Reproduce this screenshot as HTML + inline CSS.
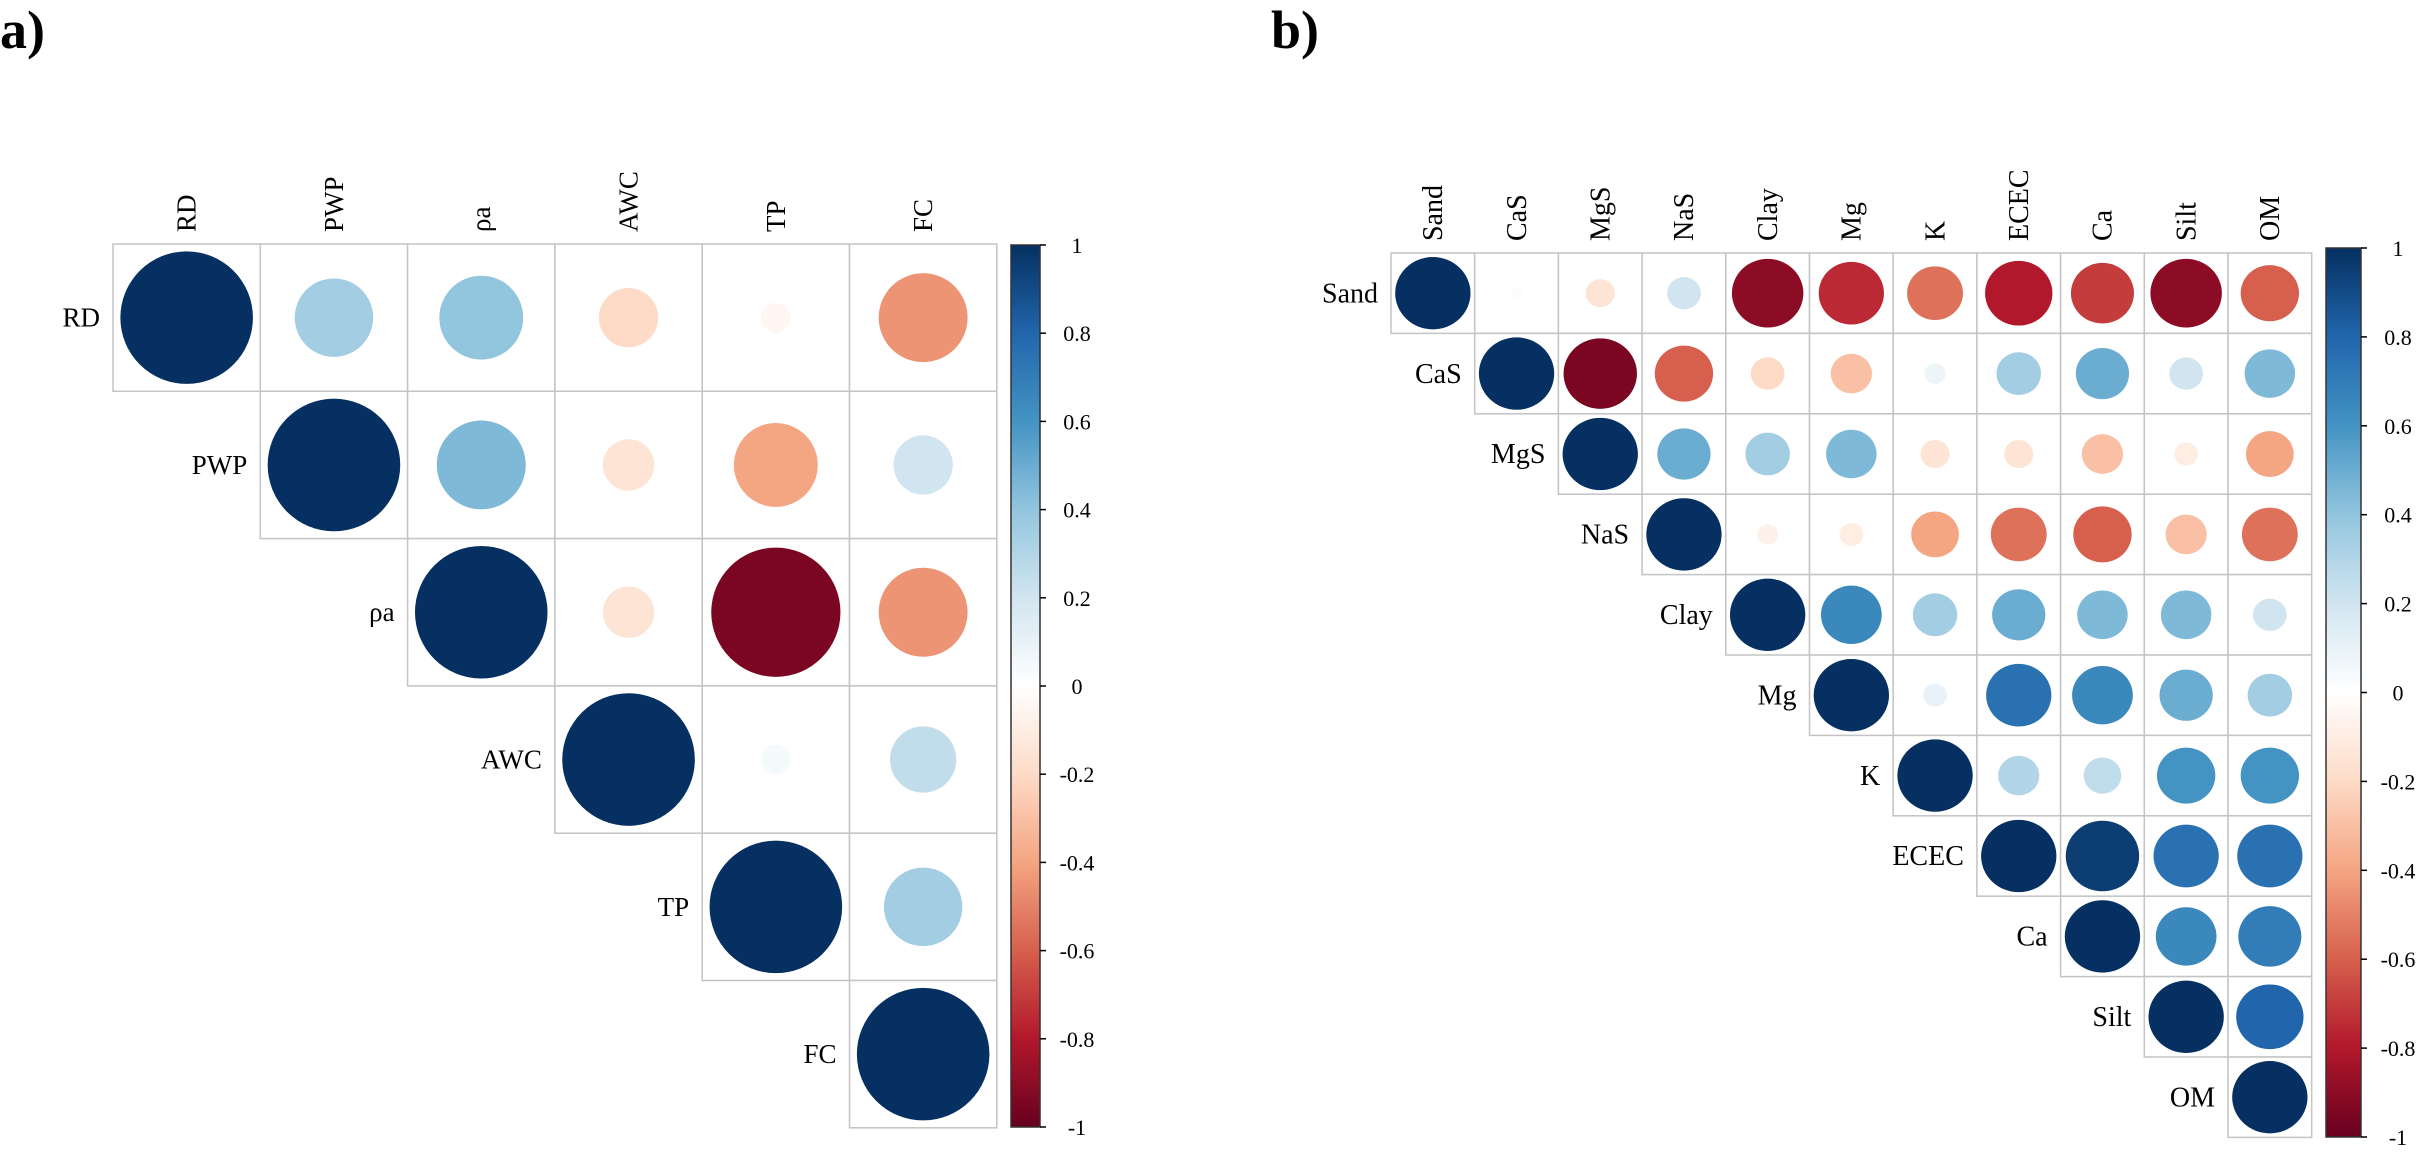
<!DOCTYPE html>
<html><head><meta charset="utf-8">
<style>
html,body{margin:0;padding:0;background:#fff;}
svg{display:block;}
svg text{font-family:"Liberation Serif","Times New Roman",serif !important;fill:#000;}
</style></head>
<body>
<svg id="fig" width="2431" height="1157" viewBox="0 0 2431 1157" xmlns="http://www.w3.org/2000/svg" font-family="Liberation Serif, serif">
<text x="0" y="48" font-size="54" font-weight="bold" font-family="Liberation Serif, serif">a)</text>
<text x="1271" y="48" font-size="54" font-weight="bold" font-family="Liberation Serif, serif">b)</text>
</svg>
<script>
// Panel a data (upper triangle, excluding diagonal)
const varsA = ["RD","PWP","ρa","AWC","TP","FC"];
const rowsA = [
  [0.35, 0.40, -0.20, -0.05, -0.45],
  [0.45, -0.15, -0.40, 0.20],
  [-0.15, -0.95, -0.45],
  [0.05, 0.25],
  [0.35],
  []
];
// Panel b data
const varsB = ["Sand","CaS","MgS","NaS","Clay","Mg","K","ECEC","Ca","Silt","OM"];
const rowsB = [
  [0.02, -0.15, 0.20, -0.90, -0.75, -0.55, -0.80, -0.70, -0.90, -0.60],
  [-0.95, -0.60, -0.20, -0.30, 0.08, 0.35, 0.50, 0.20, 0.45],
  [0.50, 0.35, 0.45, -0.15, -0.15, -0.30, -0.10, -0.40],
  [-0.08, -0.10, -0.40, -0.55, -0.60, -0.30, -0.55],
  [0.65, 0.35, 0.50, 0.45, 0.45, 0.20],
  [0.10, 0.75, 0.65, 0.50, 0.35],
  [0.30, 0.25, 0.60, 0.60],
  [0.95, 0.75, 0.75],
  [0.65, 0.70],
  [0.80],
  []
];
const tickValues = [1,0.8,0.6,0.4,0.2,0,-0.2,-0.4,-0.6,-0.8,-1];
const tickLabels = ["1","0.8","0.6","0.4","0.2","0","-0.2","-0.4","-0.6","-0.8","-1"];

const NS = "http://www.w3.org/2000/svg";
const svg = document.getElementById("fig");
const stops = ["#67001F","#B2182B","#D6604D","#F4A582","#FDDBC7","#FFFFFF","#D1E5F0","#92C5DE","#4393C3","#2166AC","#053061"];
function hex(c){return [parseInt(c.substr(1,2),16),parseInt(c.substr(3,2),16),parseInt(c.substr(5,2),16)];}
function colorFor(v){
  const t = (Math.max(-1,Math.min(1,v))+1)/2*(stops.length-1);
  const i = Math.min(stops.length-2, Math.floor(t)), f = t-i;
  const a = hex(stops[i]), b = hex(stops[i+1]);
  return "rgb("+a.map((x,k)=>Math.round(x+(b[k]-x)*f)).join(",")+")";
}
function mk(tag, attrs){const e=document.createElementNS(NS,tag);for(const k in attrs)e.setAttribute(k,attrs[k]);if(tag==="text")e.setAttribute("font-family","Liberation Serif, serif");svg.appendChild(e);return e;}

function drawPanel(p){
  const n = p.vars.length;
  const xPos = i => p.x0 + i*p.cw;
  const yPos = j => p.y0 + j*p.ch;
  p.vars.forEach((v,i)=>{
    const cx = xPos(i)+p.cw/2 + p.fs*0.33;
    const t = mk("text",{x:cx,y:p.y0-12,"font-size":p.fs,transform:"rotate(-90 "+cx+" "+(p.y0-12)+")"});
    t.textContent = v;
    
    
  });
  for(let j=0;j<n;j++){
    const vals = [1].concat(p.rows[j]);
    const lt = mk("text",{x:xPos(j)-13,y:yPos(j)+p.ch/2+p.fs*0.33,"font-size":p.fs,"text-anchor":"end"});
    lt.textContent = p.vars[j];
    
    
    vals.forEach((v,k)=>{
      const i = j+k;
      const r = mk("rect",{x:xPos(i),y:yPos(j),width:p.cw,height:p.ch,fill:"#fff",stroke:"#c4c4c4","stroke-width":1.5});
      
      
      const s = Math.sqrt(Math.abs(v));
      const c = mk("ellipse",{cx:xPos(i)+p.cw/2,cy:yPos(j)+p.ch/2,rx:p.cw*0.45*s,ry:p.ch*0.45*s,fill:colorFor(v)});
      
      
    });
  }
  const gid = "grad"+p.id;
  const defs = mk("defs",{});
  const g = document.createElementNS(NS,"linearGradient");
  g.setAttribute("id",gid);g.setAttribute("x1","0");g.setAttribute("y1","1");g.setAttribute("x2","0");g.setAttribute("y2","0");
  stops.forEach((c,i)=>{const s=document.createElementNS(NS,"stop");s.setAttribute("offset",(i/(stops.length-1)));s.setAttribute("stop-color",c);g.appendChild(s);});
  defs.appendChild(g);
  const bar = mk("rect",{x:p.bx,y:p.by0,width:p.bw,height:p.by1-p.by0,fill:"url(#"+gid+")",stroke:"#333","stroke-width":1.5});
  
  
  const yScale = v => p.by1 - (v+1)/2*(p.by1-p.by0);
  tickValues.forEach((v,i)=>{
    const y = yScale(v);
    const tk = mk("line",{x1:p.bx+p.bw,x2:p.bx+p.bw+6,y1:y,y2:y,stroke:"#000","stroke-width":1.5});
    
    
    const tl = mk("text",{x:p.bx+p.bw+37,y:y+8,"font-size":22,"text-anchor":"middle"});
    tl.textContent = tickLabels[i];
    
    
  });
}
drawPanel({id:"a",vars:varsA,rows:rowsA,x0:113,y0:244,cw:147.3,ch:147.3,fs:27,bx:1011,bw:29,by0:245,by1:1127});
drawPanel({id:"b",vars:varsB,rows:rowsB,x0:1391,y0:253,cw:83.7,ch:80.4,fs:28,bx:2326,bw:35,by0:248,by1:1137});
</script>
</body></html>
